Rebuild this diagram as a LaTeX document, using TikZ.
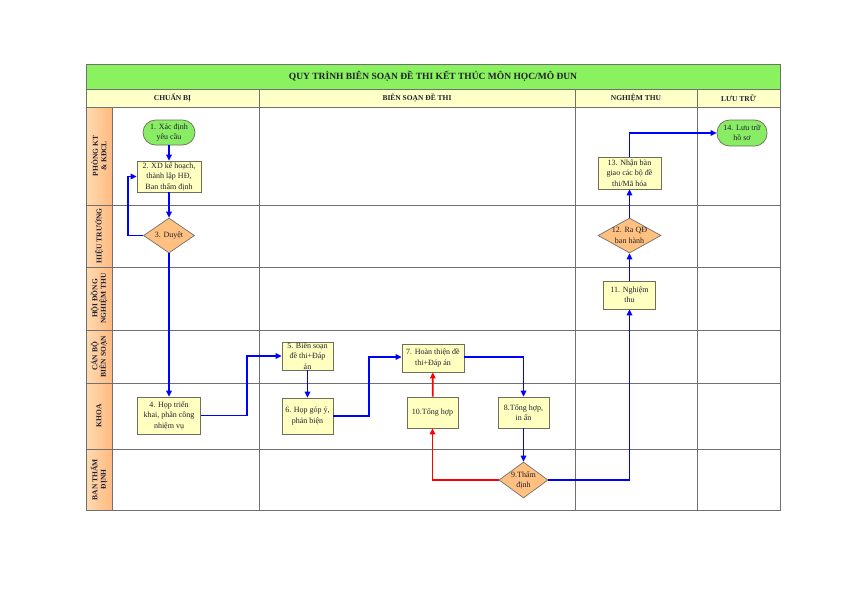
\documentclass[tikz,border=0pt]{standalone}
\usepackage{fontspec}
\setmainfont{Liberation Serif}
\usepackage{tikz}
\usetikzlibrary{positioning}
\usetikzlibrary{shapes.geometric}
\usetikzlibrary{arrows.meta}
\definecolor{titlegreen}{RGB}{138,242,94}
\definecolor{headeryellow}{RGB}{255,255,200}
\definecolor{lanelight}{RGB}{255,218,176}
\definecolor{lanedark}{RGB}{255,186,128}
\definecolor{taskyellow}{RGB}{255,255,192}
\definecolor{decisionorange}{RGB}{255,192,128}
\definecolor{terminalgreen}{RGB}{136,236,100}
\definecolor{gridgray}{RGB}{112,112,112}
\definecolor{borderolive}{RGB}{110,110,90}
\definecolor{flowblue}{RGB}{0,0,255}
\definecolor{flowred}{RGB}{255,0,0}
\definecolor{inkdark}{RGB}{32,32,48}

\begin{document}
\begin{tikzpicture}[x=1pt, y=-1pt, align=center, text=inkdark,
    >={Triangle[length=6pt, width=5.5pt]},
    lane line/.style={draw=gridgray, line width=0.8pt},
    title text/.style={font=\bfseries\fontsize{9.5}{11}\selectfont},
    phase text/.style={font=\bfseries\fontsize{7.5}{9}\selectfont},
    lane text/.style={rotate=90, font=\bfseries\fontsize{7.5}{8.5}\selectfont},
    step text/.style={font=\fontsize{8}{10.3}\selectfont, inner sep=-12pt},
    task/.style={rectangle, draw=borderolive, fill=taskyellow, line width=0.7pt, step text},
    decision/.style={diamond, draw=gridgray, fill=decisionorange, line width=0.7pt, step text},
    terminal/.style={rectangle, rounded corners=12.5pt, draw=borderolive, fill=terminalgreen, line width=0.7pt, step text},
    flow/.style={->, draw=flowblue, line width=1.7pt},
    back flow/.style={->, draw=flowred, line width=1.7pt}]

\useasboundingbox (0,0) rectangle (842,595);

%% Lanes
\fill[titlegreen] (86,64.5) rectangle (780,89);
\fill[headeryellow] (86,89) rectangle (780,107);
\shade[left color=lanelight, right color=lanedark] (86,107) rectangle (112,510);

\draw[lane line] (86,64.5) rectangle (780,510);
\draw[lane line] (86,89) -- (780,89);
\draw[lane line] (86,107) -- (780,107);
\draw[lane line] (86,205) -- (780,205);
\draw[lane line] (86,267) -- (780,267);
\draw[lane line] (86,330) -- (780,330);
\draw[lane line] (86,383) -- (780,383);
\draw[lane line] (86,449) -- (780,449);
\draw[lane line] (112,107) -- (112,510);
\draw[lane line] (259,89) -- (259,510);
\draw[lane line] (575,89) -- (575,510);
\draw[lane line] (697,89) -- (697,510);

\draw
    (433,76.5) node [name=title, title text] {QUY TRÌNH BIÊN SOẠN ĐỀ THI KẾT THÚC MÔN HỌC/MÔ ĐUN}
    (172.5,98) node [name=prepare phase, phase text] {CHUẨN BỊ}
    (417,98) node [name=compose phase, phase text] {BIÊN SOẠN ĐỀ THI}
    (636,98) node [name=accept phase, phase text] {NGHIỆM THU}
    (738.5,98) node [name=archive phase, phase text] {LƯU TRỮ}
;

\draw
    (99,156) node [name=quality lane, lane text] {PHÒNG KT\\\& KĐCL}
    (99,236) node [name=rector lane, lane text] {HIỆU TRƯỞNG}
    (99,298.5) node [name=council lane, lane text] {HỘI ĐỒNG\\NGHIỆM THU}
    (99,356.5) node [name=author lane, lane text] {CÁN BỘ\\BIÊN SOẠN}
    (99,416) node [name=faculty lane, lane text] {KHOA}
    (99,479.5) node [name=appraisal lane, lane text] {BAN THẨM\\ĐỊNH}
;

%% Steps
\draw
    (169,132.5) node [terminal, name=define, minimum width=52, minimum height=25] {1. Xác định\\yêu cầu}
    (169,176.5) node [task, name=plan, minimum width=64, minimum height=31] {2. XD kế hoạch,\\thành lập HĐ,\\Ban thẩm định}
    (169,235.5) node [decision, name=approve, minimum width=51, minimum height=35] {3. Duyệt}
    (169,415.5) node [task, name=kickoff, minimum width=63, minimum height=37] {4. Họp triển\\khai, phân công\\nhiệm vụ}

    (307.5,356) node [task, name=draft, minimum width=51, minimum height=28] {5. Biên soạn\\đề thi+Đáp\\án}
    (307.5,416) node [task, name=review, minimum width=51, minimum height=36] {6. Họp góp ý,\\phản biện}
    (433,358) node [task, name=finalize, minimum width=62, minimum height=28] {7. Hoàn thiện đề\\thi+Đáp án}
    (523.5,412.5) node [task, name=print, minimum width=51, minimum height=31] {8.Tổng hợp,\\in ấn}
    (523.5,480) node [decision, name=appraise, minimum width=49, minimum height=36] {9.Thẩm\\định}
    (432.5,412.5) node [task, name=summary, minimum width=51, minimum height=31] {10.Tổng hợp}

    (629.5,295) node [task, name=acceptance, minimum width=52, minimum height=28] {11. Nghiệm\\thu}
    (629.5,235.5) node [decision, name=issue, minimum width=63, minimum height=35] {12. Ra QĐ\\ban hành}
    (629.5,173) node [task, name=handover, minimum width=63, minimum height=32] {13. Nhận bàn\\giao các bộ đề\\thi/Mã hóa}
    (742,133) node [terminal, name=archive, minimum width=50, minimum height=26] {14. Lưu trữ\\hồ sơ}
;

\coordinate (p1) at (128,0);
\coordinate (p2) at (247,0);
\coordinate (p3) at (369,0);

\draw[flow] (define) -- (plan);
\draw[flow] (plan) -- (approve);
\draw[flow] (approve.west) -- (p1 |- approve.west) -- (p1 |- plan.west) -- (plan.west);
\draw[flow] (approve) -- (kickoff);
\draw[flow] (kickoff.east) -- (p2 |- kickoff.east) -- (p2 |- draft.west) -- (draft.west);
\draw[flow] (draft) -- (review);
\draw[flow] (review.east) -- (p3 |- review.east) -- ([yshift=1]p3 |- finalize.west) -- ([yshift=1]finalize.west);
\draw[flow] ([yshift=1]finalize.east) -| (print.north);
\draw[flow] (print) -- (appraise);
\draw[back flow] (appraise.west) -| (summary.south);
\draw[back flow] (summary) -- (finalize);
\draw[flow] (appraise.east) -| (acceptance.south);
\draw[flow] (acceptance) -- (issue);
\draw[flow] (issue) -- (handover);
\draw[flow] (handover.north) |- (archive.west);

\end{tikzpicture}
\end{document}
